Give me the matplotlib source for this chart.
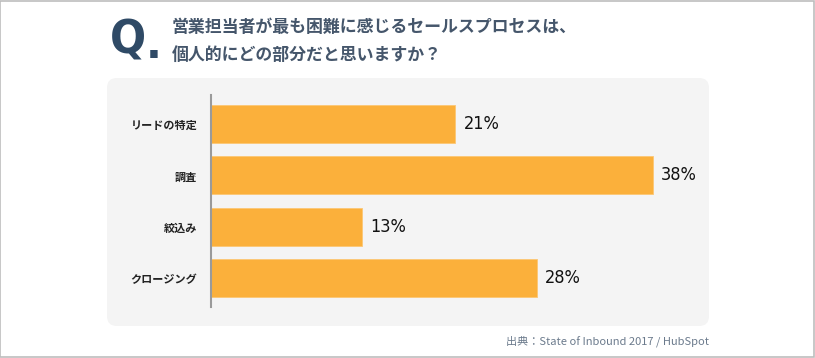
import matplotlib
matplotlib.use("Agg")
import matplotlib.pyplot as plt
from matplotlib.patches import FancyBboxPatch, Rectangle

plt.rcParams['font.family'] = ['Noto Sans CJK JP', 'DejaVu Sans']

categories = ["リードの特定", "調査", "絞込み", "クロージング"]
values = [21, 38, 13, 28]
value_labels = ["21%", "38%", "13%", "28%"]
title_lines = ["営業担当者が最も困難に感じるセールスプロセスは、", "個人的にどの部分だと思いますか？"]
source = "出典：State of Inbound 2017 / HubSpot"

W, H = 815, 358
fig = plt.figure(figsize=(W / 100, H / 100), dpi=100)
fig.patch.set_facecolor("white")

def fx(px):
    return px / W

def fy(py):
    return 1 - py / H

# outer border
fig.patches.append(Rectangle((0.0006, 0.0015), 0.9985, 0.996, transform=fig.transFigure,
                             fill=False, edgecolor="#bdbdbd", linewidth=1.2, zorder=-2))

# grey panel
panel = FancyBboxPatch((fx(107), fy(326)), fx(709) - fx(107), fy(78) - fy(326),
                       boxstyle="round,pad=0,rounding_size=0.012",
                       transform=fig.transFigure, facecolor="#f4f4f4", edgecolor="none",
                       mutation_aspect=W / H, zorder=-1)
fig.patches.append(panel)

# title
fig.text(fx(110), fy(41), "Q", fontsize=34, fontweight="bold", color="#2f4a66",
         va="center", ha="left", family=["DejaVu Sans"], stretch="condensed")
fig.text(fx(146), fy(58), ".", fontsize=30, fontweight="bold", color="#2f4a66",
         va="baseline", ha="left", family=["DejaVu Sans"])
fig.text(fx(172), fy(27), title_lines[0], fontsize=12.2, fontweight="bold",
         color="#45566b", va="center", ha="left")
fig.text(fx(172), fy(55), title_lines[1], fontsize=12.2, fontweight="bold",
         color="#45566b", va="center", ha="left")

# source
fig.text(fx(709), fy(341), source, fontsize=8, color="#6b7a8c", va="center", ha="right")

# bar axes
ax = fig.add_axes([fx(211), fy(307), fx(709) - fx(211), fy(95) - fy(307)])
ax.set_facecolor("none")
pos = list(range(len(categories)))
ax.barh(pos, values, height=0.74, color="#fbb03b", edgecolor="#fcc774", linewidth=0.6)
ax.set_xlim(0, (709 - 211) / ((653 - 211) / 38))
ax.set_ylim(3.567, -0.567)
for p, v, lab in zip(pos, values, value_labels):
    ax.text(v + 0.7, p, lab, va="center", ha="left", fontsize=13, color="#111111",
            family=["DejaVu Sans"], stretch="condensed")
ax.set_yticks(pos)
ax.set_yticklabels(categories, fontsize=8, fontweight="bold", color="#222222")
ax.tick_params(axis="y", length=0, pad=10)
ax.set_xticks([])
for s in ["top", "right", "bottom"]:
    ax.spines[s].set_visible(False)
ax.spines["left"].set_color("#9a9a9a")
ax.spines["left"].set_linewidth(1.5)

fig.savefig("out.png", dpi=100, facecolor="white")
